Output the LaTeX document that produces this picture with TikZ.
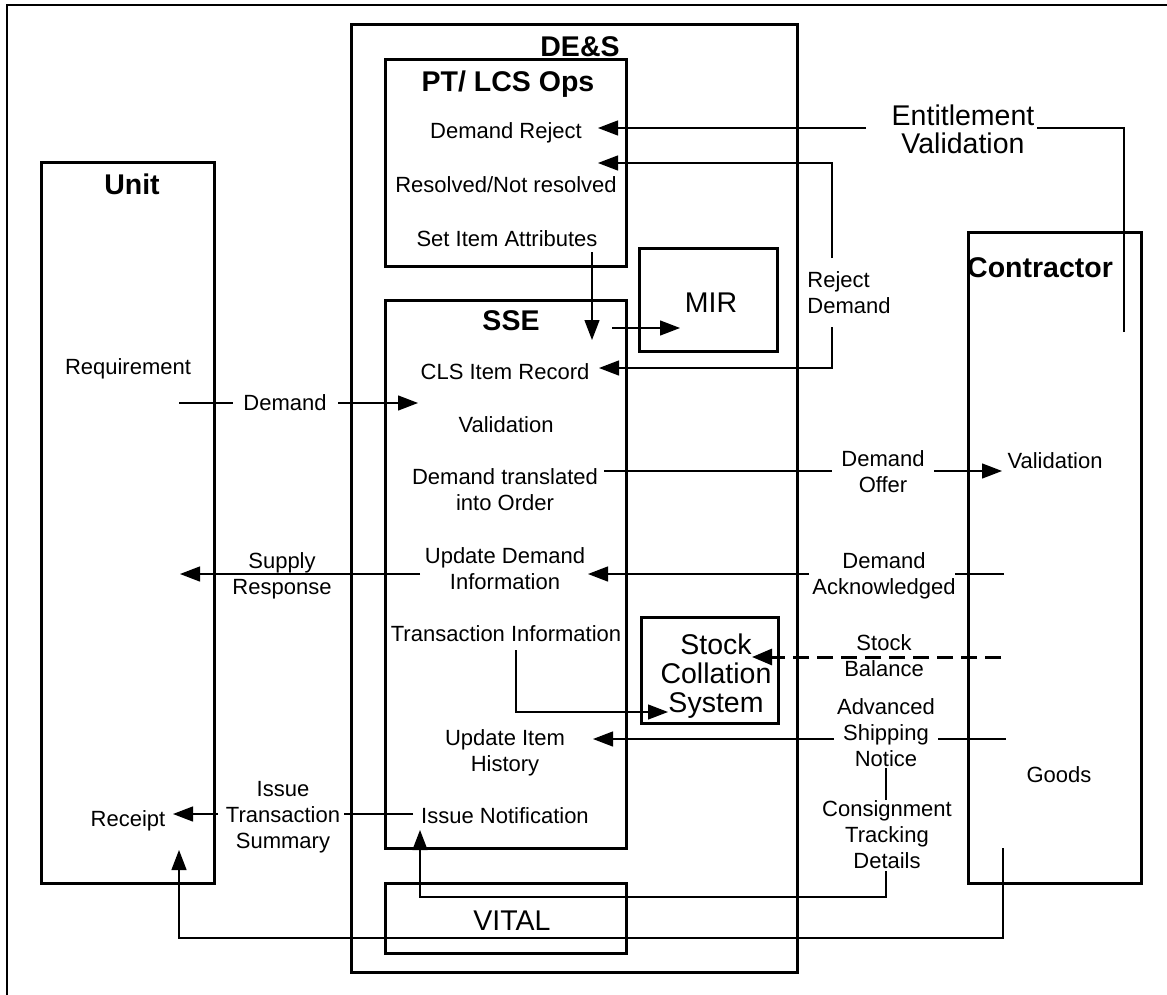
\documentclass[tikz,border=0pt]{standalone}
\usepackage{fontspec}
\setmainfont{Liberation Sans}
\usetikzlibrary{arrows.meta}
\begin{document}
\begin{tikzpicture}[x=0.5pt,y=-0.5pt,
  box/.style={draw,line width=1.5pt},
  conn/.style={line width=0.65pt},
  tipT/.tip={Triangle[length=10pt,width=7.5pt]},
  arr/.style={conn,-tipT},
  lbl/.style={font=\fontsize{11}{13}\selectfont,inner sep=0pt,anchor=base,align=center},
  big/.style={font=\fontsize{14.25}{14.5}\selectfont,inner sep=0pt,anchor=base,align=center},
  ttl/.style={font=\fontsize{14.25}{16}\selectfont\bfseries,inner sep=0pt,anchor=base},
]
\useasboundingbox (0,0) rectangle (1167,995);
% frame
\draw[line width=1pt] (7,1000) -- (7,5) -- (1170,5);
% boxes
\draw[box] (351,25) rectangle (797,972);   % DE&S
\draw[box] (385,60) rectangle (626,266);   % PT/LCS Ops
\draw[box] (639,248) rectangle (777,351);  % MIR
\draw[box] (385,300) rectangle (626,848);  % SSE
\draw[box] (641,617) rectangle (778,723);  % Stock Collation System
\draw[box] (385,883) rectangle (626,953);  % VITAL
\draw[box] (41,162) rectangle (214,883);   % Unit
\draw[box] (968,232) rectangle (1141,883); % Contractor

% titles and texts (multi-line nodes: base = last line)
\node[ttl] (tdes) at (580,57) {DE\&S};
\node[ttl] (tpt) at (508,92) {PT/ LCS Ops};
\node[lbl] (dreject) at (506,139) {Demand Reject};
\node[lbl] (resolved) at (506,192) {Resolved/Not resolved};
\node[lbl] (setattr) at (507,246) {Set Item Attributes};
\node[big] (mir) at (711,312) {MIR};
\node[ttl] (tsse) at (511,330) {SSE};
\node[lbl] (cls) at (505,379) {CLS Item Record};
\node[lbl] (valid) at (506,432) {Validation};
\node[lbl] (dto) at (505,510) {Demand translated\\into Order};
\node[lbl] (udi) at (505,589) {Update Demand\\Information};
\node[lbl] (tinfo) at (506,641) {Transaction Information};
\node[big] (scs) at (716,712) {Stock\\Collation\\System};
\node[lbl] (uih) at (505,771) {Update Item\\History};
\node[lbl] (inot) at (505,823) {Issue Notification};
\node[big] (vital) at (512,930) {VITAL};
\node[ttl] (tunit) at (132,194) {Unit};
\node[lbl] (req) at (128,374) {Requirement};
\node[lbl] (receipt) at (128,826) {Receipt};
\node[lbl] (ldemand) at (285,410) {Demand};
\node[lbl] (lsupply) at (282,594) {Supply\\Response};
\node[lbl] (lits) at (283,848) {Issue\\Transaction\\Summary};
\node[big,font=\fontsize{14.25}{14}\selectfont] (lent) at (963,154) {Entitlement\\Validation};
\node[lbl,align=left,anchor=base west] (lrej) at (807,313) {Reject\\Demand};
\node[ttl] (tcon) at (1040,277) {Contractor};
\node[lbl] (cvalid) at (1055,468) {Validation};
\node[lbl] (goods) at (1059,782) {Goods};
\node[lbl] (loffer) at (883,492) {Demand\\Offer};
\node[lbl] (lack) at (884,594) {Demand\\Acknowledged};
\node[lbl] (lstock) at (884,676) {Stock\\Balance};
\node[lbl] (lasn) at (886,766) {Advanced\\Shipping\\Notice};
\node[lbl] (lcons) at (887,868) {Consignment\\Tracking\\Details};

% connector points
\coordinate (entS) at (1124,332);
\coordinate (entR) at (1037,128);
\coordinate (entL) at (866,128);
\coordinate (drejT) at (598,128);
\coordinate (resT) at (598,163);
\coordinate (rejTop) at (832,258);
\coordinate (rejBot) at (832,327);
\coordinate (clsT) at (599,368);
\coordinate (setS) at (592,252);
\coordinate (setT) at (592,340);
\coordinate (mirS) at (612,328);
\coordinate (mirT) at (680,328);
\coordinate (demS) at (179,403);
\coordinate (demA) at (233,403);
\coordinate (demB) at (338,403);
\coordinate (demT) at (418,403);
\coordinate (offS) at (604,471);
\coordinate (offA) at (832,471);
\coordinate (offB) at (934,471);
\coordinate (offT) at (1002,471);
\coordinate (ackS) at (1004,574);
\coordinate (ackA) at (955,574);
\coordinate (ackB) at (809,574);
\coordinate (ackT) at (588,574);
\coordinate (supS) at (420,574);
\coordinate (supT) at (180,574);
\coordinate (trS) at (516,650);
\coordinate (trT) at (668,712);
\coordinate (stS) at (1001,657);
\coordinate (stT) at (752,657);
\coordinate (asnS) at (1006,739);
\coordinate (asnA) at (938,739);
\coordinate (asnB) at (834,739);
\coordinate (asnT) at (593,739);
\coordinate (conA) at (886,768);
\coordinate (conB) at (886,800);
\coordinate (conC) at (886,871);
\coordinate (conD) at (886,897);
\coordinate (conT) at (420,830);
\coordinate (goS) at (1003,848);
\coordinate (goD) at (1003,938);
\coordinate (goT) at (179,850);
\coordinate (itsS) at (413,814);
\coordinate (itsA) at (344,814);
\coordinate (itsB) at (218,814);
\coordinate (itsT) at (173,814);

% connectors
\draw[conn] (entS) |- (entR);
\draw[arr] (entL) -- (drejT);
\draw[arr] (rejTop) |- (resT);
\draw[arr] (rejBot) |- (clsT);
\draw[arr] (setS) -- (setT);
\draw[arr] (mirS) -- (mirT);
\draw[conn] (demS) -- (demA);
\draw[arr] (demB) -- (demT);
\draw[conn] (offS) -- (offA);
\draw[arr] (offB) -- (offT);
\draw[conn] (ackS) -- (ackA);
\draw[arr] (ackB) -- (ackT);
\draw[arr] (supS) -- (supT);
\draw[arr] (trS) |- (trT);
\draw[line width=1.5pt,dash pattern=on 8pt off 4pt,-{Triangle[length=10pt,width=8pt]}] (stS) -- (stT);
\draw[conn] (asnS) -- (asnA);
\draw[arr] (asnB) -- (asnT);
\draw[conn] (conA) -- (conB);
\draw[arr] (conC) -- (conD) -| (conT);
\draw[arr] (goS) -- (goD) -| (goT);
\draw[conn] (itsS) -- (itsA);
\draw[arr] (itsB) -- (itsT);
\end{tikzpicture}
\end{document}
